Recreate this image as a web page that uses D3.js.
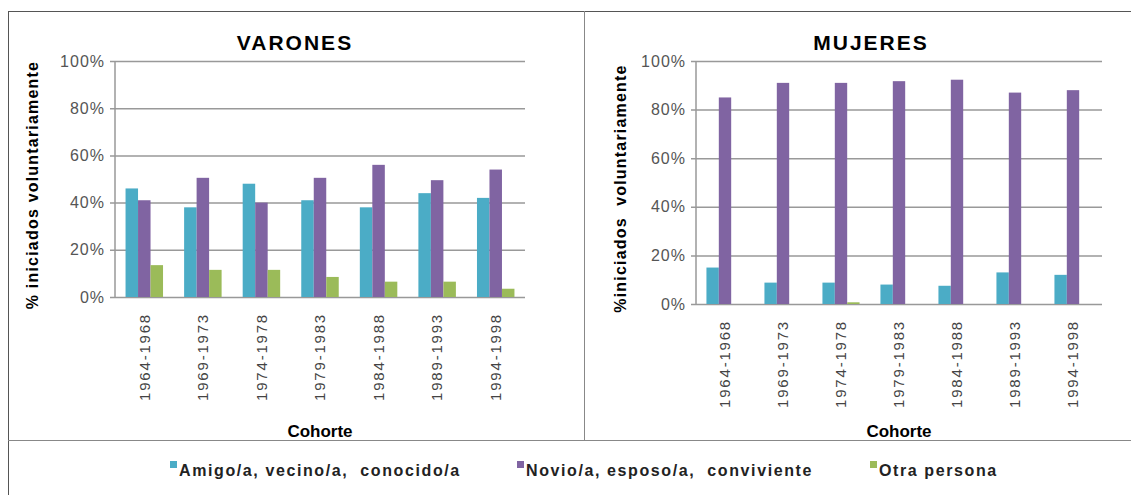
<!DOCTYPE html>
<html>
<head>
<meta charset="utf-8">
<script src="https://cdn.jsdelivr.net/npm/d3@7"></script>
<style>
  body { margin: 0; background: #fff; }
  svg { display: block; font-family: "Liberation Sans", Arial, sans-serif; }
</style>
</head>
<body>
<div id="chart"></div>
<script>
// Cohorts and series
const cohorts = ["1964-1968", "1969-1973", "1974-1978", "1979-1983", "1984-1988", "1989-1993", "1994-1998"];
const seriesNames = ["Amigo/a, vecino/a,  conocido/a", "Novio/a, esposo/a,  conviviente", "Otra persona"];
const seriesColors = ["#4BACC6", "#8064A2", "#9BBB59"];

// Varones (%)
const varonesAmigo = [46, 38, 48, 41, 38, 44, 42];
const varonesNovio = [41, 50.5, 40, 50.5, 56, 49.5, 54];
const varonesOtra = [13.5, 11.5, 11.5, 8.5, 6.5, 6.5, 3.5];

// Mujeres (%)
const mujeresAmigo = [15, 8.8, 8.8, 8, 7.5, 13, 12];
const mujeresNovio = [85, 91, 91, 91.7, 92.3, 87, 88];
const mujeresOtra = [0, 0, 0.7, 0, 0, 0, 0];

const yTicks = [0, 20, 40, 60, 80, 100];

const width = 1131, height = 495;
const svg = d3.select("#chart").append("svg")
    .attr("width", width)
    .attr("height", height);

// Frame lines
const frame = svg.append("g").attr("stroke", "#555").attr("stroke-width", 1);
frame.append("line").attr("x1", 8.5).attr("x2", 8.5).attr("y1", 11).attr("y2", height);
frame.append("line").attr("x1", 8).attr("x2", width).attr("y1", 11.5).attr("y2", 11.5);
frame.append("line").attr("x1", 584.5).attr("x2", 584.5).attr("y1", 11).attr("y2", 440).attr("stroke", "#888");
frame.append("line").attr("x1", 8).attr("x2", width).attr("y1", 440.5).attr("y2", 440.5).attr("stroke", "#888");

function drawPanel(opts) {
    const { left, right, top, bottom, title, titleX, yTitle, data } = opts;
    const g = svg.append("g");

    const x0 = d3.scaleBand().domain(cohorts).range([left, right]);
    const bw = x0.bandwidth();
    const x1 = d3.scaleBand().domain(d3.range(3)).range([bw * 0.18, bw * 0.82]);
    const y = d3.scaleLinear().domain([0, 100]).range([bottom, top]);

    // Gridlines + y axis
    const yAxis = d3.axisLeft(y).tickValues(yTicks).tickSize(-(right - left) - 5)
        .tickFormat(d => d + "%").tickPadding(5);
    const ya = g.append("g").attr("transform", `translate(${left - 5},0)`).call(yAxis);
    ya.select(".domain").remove();
    ya.selectAll(".tick line").attr("stroke", "#999").attr("stroke-width", 1.5);
    ya.selectAll(".tick text")
        .style("font-size", "16px").style("letter-spacing", "1px").attr("fill", "#555");

    g.append("line").attr("x1", left).attr("x2", left).attr("y1", top).attr("y2", bottom)
        .attr("stroke", "#999").attr("stroke-width", 1.5);

    // Bars
    data.forEach((vals, s) => {
        g.append("g").selectAll("rect").data(vals).join("rect")
            .attr("x", (d, i) => x0(cohorts[i]) + x1(s))
            .attr("width", x1.bandwidth())
            .attr("y", d => y(d))
            .attr("height", d => bottom - y(d))
            .attr("fill", seriesColors[s]);
    });

    // X axis labels (rotated)
    const xa = g.append("g").attr("transform", `translate(0,${bottom})`)
        .call(d3.axisBottom(x0).tickSize(0).tickPadding(0));
    xa.select(".domain").remove();
    xa.selectAll(".tick text")
        .attr("transform", "rotate(-90)")
        .attr("text-anchor", "end")
        .attr("x", opts.xLabelOffset).attr("y", 0).attr("dy", "0.35em")
        .style("font-size", "15px").style("letter-spacing", "1.8px").attr("fill", "#444");

    // Title
    g.append("text").attr("x", titleX).attr("y", 50)
        .attr("text-anchor", "middle").style("font-size", "21px").style("font-weight", "bold")
        .style("letter-spacing", "2px").text(title);

    // Axis titles
    g.append("text").attr("x", (left + right) / 2).attr("y", 437)
        .attr("text-anchor", "middle").style("font-size", "17px").style("font-weight", "bold")
        .text("Cohorte");

    g.append("text").attr("transform", `translate(${opts.yTitleX},${(top + bottom) / 2 + 6}) rotate(-90)`)
        .attr("text-anchor", "middle").style("font-size", "16px").style("font-weight", "bold")
        .style("letter-spacing", "1.2px").style("white-space", "pre")
        .text(yTitle);
}

drawPanel({
    left: 115, right: 525, top: 61, bottom: 297,
    title: "VARONES", titleX: 295, yTitle: "% iniciados voluntariamente", yTitleX: 38,
    xLabelOffset: -16,
    data: [varonesAmigo, varonesNovio, varonesOtra]
});

drawPanel({
    left: 696, right: 1102, top: 61, bottom: 304,
    title: "MUJERES", titleX: 871, yTitle: "%iniciados  voluntariamente", yTitleX: 626,
    xLabelOffset: -16,
    data: [mujeresAmigo, mujeresNovio, mujeresOtra]
});

// Legend
const legendX = [170, 517, 870];
const legend = svg.append("g");
seriesNames.forEach((name, i) => {
    const lg = legend.append("g").attr("transform", `translate(${legendX[i]},470)`);
    lg.append("rect").attr("x", 0).attr("y", -9).attr("width", 7).attr("height", 7).attr("fill", seriesColors[i]);
    lg.append("text").attr("x", 9).attr("y", 0).attr("dy", "0.35em")
        .style("font-size", "16px").style("font-weight", "bold").style("letter-spacing", "1.6px")
        .style("white-space", "pre").attr("fill", "#222").text(name);
});
</script>
</body>
</html>
